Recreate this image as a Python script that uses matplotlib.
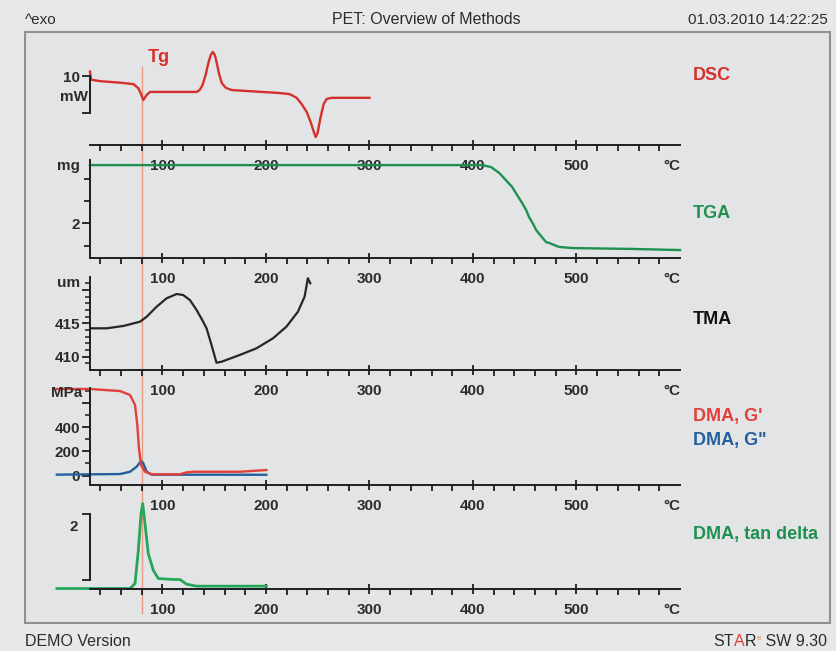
import matplotlib
matplotlib.use("Agg")
import matplotlib.pyplot as plt
from matplotlib.patches import Rectangle
from matplotlib.lines import Line2D
from matplotlib.transforms import blended_transform_factory

plt.rcParams['font.family'] = ['Liberation Sans', 'DejaVu Sans']

# ---------------- data ----------------
# DSC heat flow (mW) vs temperature (°C)
dsc_T = [30, 31, 40, 59, 72, 76.7, 79.3, 81.5, 84.8, 88, 133, 135.9, 138.8, 141.7,
         144.6, 146.7, 148.6, 150.6, 152.5, 154.5, 157.3, 161.2, 167, 184, 213, 223,
         229.6, 234.5, 239.3, 243.1, 246, 248, 249.9, 252.8, 255.7, 258.6, 263.4, 280, 300]
dsc_mW = [11.2, 9.0, 8.6, 8.2, 7.8, 6.7, 5.1, 3.5, 4.9, 5.7, 5.7, 6.2, 7.6, 10.3,
          13.8, 15.7, 16.5, 15.7, 13.5, 10.8, 8.1, 6.8, 6.2, 5.9, 5.4, 5.1,
          4.1, 2.4, 0.3, -2.4, -4.9, -6.5, -5.4, -1.1, 2.4, 3.8, 4.1, 4.1, 4.1]

# TGA mass (mg)
tga_T = [30, 409, 412.8, 417.6, 420.5, 425.3, 430.1, 437.8, 442.6, 447.5, 451.3, 454.2,
         458.1, 461, 464.8, 470.6, 473.5, 483.1, 495.7, 553.5, 600]
tga_mg = [4.61, 4.61, 4.57, 4.52, 4.42, 4.26, 4.02, 3.63, 3.27, 2.91, 2.60, 2.28,
          1.97, 1.70, 1.48, 1.16, 1.12, 0.94, 0.89, 0.85, 0.80]

# TMA length (um)
tma_T = [30.1, 46.2, 62.2, 78.3, 84.8, 94.4, 104, 113.7, 120, 126.5, 133, 139.3, 142.6,
         147.4, 152.2, 157.1, 174.7, 190.8, 206.8, 219.7, 230.9, 237.3, 240.5, 242.8]
tma_um = [414.25, 414.25, 414.6, 415.24, 415.99, 417.49, 418.75, 419.39, 419.24, 418.49,
          416.99, 415.24, 414.25, 411.75, 409.09, 409.24, 410.25, 411.25, 412.75, 414.49,
          416.74, 418.99, 421.75, 421.0]

# DMA storage modulus G' (MPa)
gp_T = [-2, 30, 59, 68.7, 73.5, 75.7, 77.3, 79.3, 83.1, 89.6, 116.9, 123.3, 129.7, 174.7, 200.4]
gp_MPa = [715, 715, 698, 665, 583, 417, 225, 87, 31, 10, 10, 26, 31, 31, 45]

# DMA loss modulus G'' (MPa)
gpp_T = [-2, 59, 68.7, 75.1, 79.3, 81.5, 84.8, 89.6, 200.4]
gpp_MPa = [7, 12, 31, 73, 120, 101, 31, 7, 6]

# DMA tan delta
td_T = [-2, 68.7, 73.5, 76.7, 79.3, 80.9, 83.1, 86.3, 91.1, 96, 110.4, 116.9, 123.3, 133, 200.4]
td_val = [0, 0, 0.15, 1.15, 2.25, 2.55, 1.95, 1.05, 0.55, 0.30, 0.27, 0.27, 0.13, 0.07, 0.07]

TG_T = 80  # glass transition marker

x_major = [100, 200, 300, 400, 500]
x_minor = [t for t in range(40, 600, 20) if t % 100]
x_labels = ['100', '200', '300', '400', '500']

# ---------------- layout ----------------
W, H, DPI = 837, 651, 100
T_MIN, T_MAX = 30, 600
X0, X1 = 90, 680

OUTER = '#e7e8ea'
INNER = '#e2e4e6'
AXC = '#1e1e1e'
TXT = '#2c2c2c'
RED = '#d6302c'
RED2 = '#e3403a'
GREEN = '#1e9150'
GREEN2 = '#27a65a'
BLUE = '#245f9e'
TGC = '#e89a82'

fig = plt.figure(figsize=(W / DPI, H / DPI), dpi=DPI)
fig.patch.set_facecolor(OUTER)

fig.add_artist(Rectangle((25 / W, 1 - 623 / H), (830 - 25) / W, (623 - 32) / H,
                         transform=fig.transFigure, facecolor=INNER,
                         edgecolor='#8e9092', lw=1.5, zorder=-5))

TICK_FS = 11


def make_panel(axis_py, top_py, ref_val, ref_py, px_per_unit):
    lo = ref_val - (axis_py - ref_py) / px_per_unit
    hi = ref_val + (ref_py - top_py) / px_per_unit
    ax = fig.add_axes([X0 / W, 1 - axis_py / H, (X1 - X0) / W, (axis_py - top_py) / H])
    ax.set_xlim(T_MIN, T_MAX)
    ax.set_ylim(lo, hi)
    ax.patch.set_visible(False)
    ax.spines[['top', 'right']].set_visible(False)
    for s in ('bottom', 'left'):
        ax.spines[s].set_linewidth(1.4)
        ax.spines[s].set_color(AXC)
    ax.set_xticks(x_major, labels=[''] * len(x_major))
    ax.set_xticks(x_minor, minor=True)
    ax.tick_params(axis='x', which='major', direction='inout', length=7, width=1.3, color=AXC)
    ax.tick_params(axis='x', which='minor', direction='out', length=4, width=1.3, color=AXC)
    ax.tick_params(axis='y', which='major', direction='out', length=5.5, width=1.3,
                   color=AXC, labelsize=TICK_FS, labelcolor=TXT, pad=1.5)
    ax.tick_params(axis='y', which='minor', direction='out', length=3.5, width=1.1, color=AXC)
    for t, lab in zip(x_major, x_labels):
        ax.annotate(lab, xy=(t, 0), xycoords=('data', 'axes fraction'), xytext=(0, -21),
                    textcoords='offset pixels', ha='center', va='center',
                    fontsize=TICK_FS, color=TXT, fontweight='bold')
    ax.annotate('°C', xy=(T_MAX, 0), xycoords=('data', 'axes fraction'), xytext=(0, -21),
                textcoords='offset pixels', ha='right', va='center',
                fontsize=TICK_FS, color=TXT, fontweight='bold')
    for lab in ax.get_yticklabels():
        lab.set_fontweight('bold')
    return ax


def side_label(ax, text, val, dx=-10):
    ax.annotate(text, xy=(T_MIN, val), xytext=(dx, 0), textcoords='offset pixels',
                ha='right', va='center', fontsize=TICK_FS, color=TXT, fontweight='bold')


# DSC
ax_dsc = make_panel(145, 40, 10, 76, 3.7)
ax_dsc.spines['left'].set_bounds(0, 10)
ax_dsc.set_yticks([0, 10], labels=['', '10'])
for lab in ax_dsc.get_yticklabels():
    lab.set_fontweight('bold')
side_label(ax_dsc, 'mW', 4.3, dx=-2)
ax_dsc.plot(dsc_T, dsc_mW, color=RED, lw=1.7, clip_on=False, solid_joinstyle='round')

# TGA
ax_tga = make_panel(258, 160, 2, 223.3, 22.3)
ax_tga.spines['left'].set_bounds(ax_tga.get_ylim()[0], ax_tga.get_ylim()[1])
ax_tga.set_yticks([2], labels=['2'])
ax_tga.set_yticks([1, 3, 4], minor=True)
ax_tga.tick_params(axis='y', which='minor', length=4.5, width=1.3)
for lab in ax_tga.get_yticklabels():
    lab.set_fontweight('bold')
side_label(ax_tga, 'mg', 4.57)
ax_tga.plot(tga_T, tga_mg, color=GREEN, lw=1.7, clip_on=False, solid_joinstyle='round')

# TMA
ax_tma = make_panel(370, 277, 415, 323.3, 6.67)
ax_tma.set_yticks([410, 415, 420], labels=['410', '415', ''])
ax_tma.set_yticks([t for t in range(409, 422) if t % 5], minor=True)
for lab in ax_tma.get_yticklabels():
    lab.set_fontweight('bold')
side_label(ax_tma, 'um', 421.04)
ax_tma.plot(tma_T, tma_um, color='#262626', lw=1.6, clip_on=False, solid_joinstyle='round')

# DMA moduli
ax_dma = make_panel(485, 388, 0, 475.5, 0.121)
ax_dma.set_yticks([0, 200, 400, 600], labels=['0', '200', '400', ''])
ax_dma.set_yticks([100, 300, 500, 700], minor=True)
for lab in ax_dma.get_yticklabels():
    lab.set_fontweight('bold')
side_label(ax_dma, 'MPa', 682, dx=-8)
ax_dma.plot(gpp_T, gpp_MPa, color=BLUE, lw=1.7, clip_on=False, solid_joinstyle='round')
ax_dma.plot(gp_T, gp_MPa, color=RED2, lw=1.7, clip_on=False, solid_joinstyle='round')

# DMA tan delta
ax_td = make_panel(588.5, 495, 0, 588.5, 33.3)
ax_td.spines['left'].set_bounds(0.25, 2.25)
ax_td.set_yticks([0.25, 2.25], labels=['', ''])
side_label(ax_td, '2', 1.84, dx=-12)
ax_td.plot(td_T, td_val, color=GREEN2, lw=2.0, clip_on=False, solid_joinstyle='round')

# glass transition marker spanning all panels
tg_tr = blended_transform_factory(ax_dsc.transData, fig.transFigure)
fig.add_artist(Line2D([TG_T, TG_T], [1 - 67 / H, 1 - 613 / H], transform=tg_tr,
                      color=TGC, lw=1.0, zorder=-1))
ax_dsc.annotate('Tg', xy=(TG_T, 1 - 57 / H), xycoords=tg_tr, xytext=(6, 0),
                textcoords='offset pixels', ha='left', va='center', fontsize=13,
                color=RED, fontweight='bold')

# ---------------- page texts (pixel coordinates) ----------------
bg = fig.add_axes([0, 0, 1, 1], zorder=5)
bg.set_xlim(0, W)
bg.set_ylim(H, 0)
bg.set_axis_off()
bg.patch.set_visible(False)

bg.text(25, 20, '^exo', ha='left', va='center', fontsize=11, color=TXT)
bg.text(426, 20, 'PET: Overview of Methods', ha='center', va='center', fontsize=11.5, color=TXT)
bg.text(828, 20, '01.03.2010 14:22:25', ha='right', va='center', fontsize=11, color=TXT)
bg.text(25, 642, 'DEMO Version', ha='left', va='center', fontsize=11.5, color=TXT)

t_sw = bg.text(827, 642, ' SW 9.30', ha='right', va='center', fontsize=11.5, color=TXT)
t_e = bg.annotate('e', xy=(0, 0.5), xycoords=t_sw, ha='right', va='bottom',
                  fontsize=6, color='#e8903a')
t_r = bg.annotate('R', xy=(0, 0), xycoords=(t_e, t_sw), ha='right', va='bottom',
                  fontsize=11.5, color=TXT)
t_a = bg.annotate('A', xy=(0, 0), xycoords=(t_r, t_sw), ha='right', va='bottom',
                  fontsize=11.5, color=RED2)
bg.annotate('ST', xy=(0, 0), xycoords=(t_a, t_sw), ha='right', va='bottom',
            fontsize=11.5, color=TXT)

side = [('DSC', 75, RED), ('TGA', 214, GREEN), ('TMA', 320, '#111111'),
        ("DMA, G'", 417, RED2), ('DMA, G"', 440, BLUE), ('DMA, tan delta', 535, GREEN)]
for txt, y, c in side:
    bg.text(693, y, txt, ha='left', va='center', fontsize=13, color=c, fontweight='bold')

fig.savefig('out.png', dpi=DPI, facecolor=fig.get_facecolor())
